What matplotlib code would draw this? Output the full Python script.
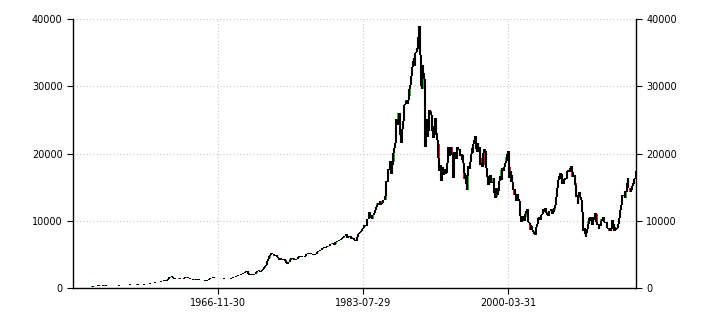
import matplotlib
matplotlib.use("Agg")
import matplotlib.pyplot as plt
import numpy as np

# Monthly closes, 1950-03 .. 2014-11
closes_by_year = {
    1950: [98, 95, 95, 93, 89, 95, 100, 98, 99, 102],
    1951: [112, 120, 128, 130, 128, 125, 127, 140, 155, 160, 158, 166],
    1952: [170, 185, 205, 200, 210, 230, 250, 280, 310, 330, 345, 363],
    1953: [430, 470, 340, 330, 340, 350, 360, 380, 370, 360, 355, 377],
    1954: [370, 360, 345, 340, 330, 325, 320, 330, 340, 335, 320, 356],
    1955: [365, 370, 365, 370, 370, 375, 380, 385, 395, 400, 410, 425],
    1956: [440, 455, 470, 495, 510, 500, 505, 515, 520, 530, 540, 549],
    1957: [570, 575, 560, 560, 590, 560, 530, 515, 500, 480, 470, 474],
    1958: [490, 500, 510, 520, 540, 550, 570, 590, 600, 610, 640, 666],
    1959: [700, 720, 740, 760, 780, 790, 800, 820, 830, 840, 850, 874],
    1960: [900, 920, 960, 970, 990, 1000, 1050, 1150, 1200, 1180, 1100, 1117],
    1961: [1250, 1400, 1500, 1600, 1650, 1700, 1800, 1650, 1500, 1400, 1420, 1432],
    1962: [1450, 1500, 1550, 1480, 1430, 1380, 1320, 1300, 1350, 1370, 1400, 1420],
    1963: [1500, 1600, 1620, 1580, 1560, 1510, 1450, 1390, 1340, 1300, 1280, 1226],
    1964: [1250, 1230, 1260, 1300, 1280, 1260, 1340, 1280, 1250, 1230, 1210, 1216],
    1965: [1230, 1250, 1200, 1150, 1100, 1080, 1050, 1150, 1200, 1250, 1330, 1417],
    1966: [1500, 1550, 1560, 1580, 1520, 1480, 1440, 1470, 1490, 1470, 1450, 1430],
    1967: [1450, 1480, 1470, 1460, 1440, 1420, 1400, 1390, 1360, 1320, 1280, 1283],
    1968: [1300, 1320, 1350, 1400, 1450, 1500, 1540, 1580, 1620, 1650, 1680, 1714],
    1969: [1800, 1830, 1860, 1900, 1950, 1980, 2050, 2100, 2150, 2200, 2280, 2359],
    1970: [2400, 2500, 2520, 2300, 2100, 2000, 2050, 2000, 2050, 2000, 1950, 1987],
    1971: [2050, 2150, 2300, 2450, 2550, 2600, 2700, 2500, 2400, 2500, 2550, 2714],
    1972: [2800, 3000, 3100, 3250, 3400, 3650, 4000, 4300, 4450, 4700, 4950, 5208],
    1973: [5250, 5050, 5000, 4900, 4800, 4900, 4850, 4650, 4600, 4500, 4100, 4306],
    1974: [4400, 4200, 4300, 4100, 4200, 4300, 4100, 3950, 3650, 3500, 3800, 3817],
    1975: [3900, 4100, 4300, 4400, 4400, 4450, 4300, 4100, 4100, 4200, 4300, 4359],
    1976: [4500, 4600, 4700, 4600, 4600, 4700, 4650, 4600, 4650, 4600, 4700, 4991],
    1977: [5050, 5100, 5150, 5100, 5150, 5200, 5100, 5050, 5000, 4950, 4900, 4866],
    1978: [5000, 5100, 5300, 5400, 5500, 5550, 5500, 5600, 5700, 5800, 5900, 6002],
    1979: [6100, 6050, 6000, 6100, 6150, 6200, 6250, 6300, 6400, 6500, 6550, 6569],
    1980: [6650, 6600, 6400, 6600, 6800, 6900, 6950, 7000, 7050, 7150, 7100, 7116],
    1981: [7250, 7400, 7500, 7600, 7750, 7800, 7900, 8000, 7500, 7600, 7700, 7682],
    1982: [7700, 7600, 7300, 7450, 7500, 7350, 7200, 7050, 7050, 7000, 7600, 8017],
    1983: [8000, 8150, 8350, 8450, 8550, 8800, 8900, 9100, 9300, 9300, 9200, 9894],
    1984: [10200, 10300, 11300, 10950, 10500, 10400, 10250, 10900, 10900, 11100, 11200, 11543],
    1985: [11990, 12320, 12580, 12430, 12630, 12880, 12300, 12500, 12700, 12850, 13020, 13113],
    1986: [13020, 13640, 15860, 15820, 16710, 17650, 17550, 18820, 17850, 16910, 18330, 18701],
    1987: [20030, 20770, 21570, 23270, 25080, 24180, 24490, 26030, 26010, 22770, 22690, 21564],
    1988: [23620, 24760, 26260, 27260, 27420, 27770, 28000, 27370, 27920, 28510, 29580, 30159],
    1989: [31580, 31990, 32840, 33710, 34270, 32950, 34950, 35060, 35640, 35550, 37270, 38916],
    1990: [37189, 34591, 29980, 29584, 33131, 31940, 31035, 25978, 20984, 25194, 22454, 23849],
    1991: [23293, 26409, 26292, 26111, 25790, 23291, 24120, 22336, 23916, 25222, 22687, 22984],
    1992: [22023, 21339, 19346, 17390, 18348, 15952, 15910, 18061, 17399, 16767, 17684, 16925],
    1993: [17024, 17098, 18591, 20919, 20552, 19590, 20380, 21027, 20106, 19703, 16408, 17417],
    1994: [20229, 19997, 19112, 19725, 20974, 20644, 20449, 20629, 19564, 19990, 19076, 19723],
    1995: [18650, 17054, 16140, 16807, 15437, 14517, 16678, 18117, 17913, 17655, 18744, 19868],
    1996: [20813, 20125, 21407, 22041, 21956, 22531, 20693, 20167, 21556, 20467, 21020, 19361],
    1997: [18330, 18557, 18003, 19151, 20069, 20605, 20331, 18229, 17888, 16459, 16636, 15259],
    1998: [16628, 16832, 16527, 15641, 15671, 15830, 16379, 14108, 13406, 13565, 14883, 13842],
    1999: [14499, 14368, 15837, 16702, 16112, 17530, 17862, 17437, 17605, 17942, 18558, 18934],
    2000: [19540, 19960, 20337, 17974, 16332, 17411, 15728, 16861, 15747, 14540, 14649, 13786],
    2001: [13844, 12884, 12999, 13934, 13262, 12969, 11861, 10714, 9775, 10367, 10697, 10543],
    2002: [9998, 10588, 11025, 11493, 11764, 10622, 9878, 9619, 9383, 8640, 9216, 8579],
    2003: [8340, 8363, 7973, 7831, 8425, 9083, 9563, 10344, 10219, 10560, 10101, 10677],
    2004: [10784, 11042, 11715, 11762, 11236, 11859, 11326, 11082, 10824, 10771, 11033, 11489],
    2005: [11388, 11741, 11669, 11009, 11277, 11584, 11900, 12414, 13574, 13607, 14872, 16111],
    2006: [16650, 16205, 17060, 16907, 15468, 15505, 15457, 16141, 16128, 16399, 16274, 17226],
    2007: [17383, 17604, 17288, 17400, 17876, 18138, 17249, 16569, 16786, 16737, 15681, 15308],
    2008: [13592, 13603, 12526, 13850, 14339, 13481, 13377, 13073, 11260, 8577, 8512, 8860],
    2009: [7994, 7568, 8110, 8828, 9523, 9958, 10357, 10493, 10133, 10035, 9345, 10546],
    2010: [10198, 10126, 11090, 11057, 9768, 9383, 9537, 8824, 9369, 9202, 9937, 10229],
    2011: [10238, 10624, 9755, 9850, 9694, 9816, 9833, 8955, 8700, 8988, 8435, 8455],
    2012: [8803, 9723, 10084, 9521, 8543, 9007, 8695, 8840, 8870, 8928, 9446, 10395],
    2013: [11139, 11559, 12398, 13861, 13775, 13677, 13668, 13389, 14456, 14328, 15662, 16291],
    2014: [14915, 14841, 14828, 14304, 14632, 15162, 15621, 15425, 16174, 16414, 17460],
}
first_open = 100

tick_positions = [200, 400, 600]
tick_labels = ["1966-11-30", "1983-07-29", "2000-03-31"]
y_ticks = [0, 10000, 20000, 30000, 40000]

close = np.array([v for y in sorted(closes_by_year) for v in closes_by_year[y]], dtype=float)
opn = np.concatenate([[first_open], close[:-1]])
n = len(close)
x = np.arange(n)

fig = plt.figure(figsize=(7.10, 3.25), dpi=100)
ax = fig.add_axes([73/710, 1-288/325, (636-73)/710, (288-19)/325])

up = close >= opn
colors = np.where(up, "#2fb82f", "#e02020")
ax.bar(x, close - opn, bottom=opn, width=3.0, color=colors, linewidth=0, zorder=2)
ax.vlines(x, np.minimum(opn, close), np.maximum(opn, close), color="black", lw=1.5, zorder=3)

ax.set_xlim(0, n - 0.5)
ax.set_ylim(0, 40000)
ax.set_yticks(y_ticks)
ax.set_yticklabels([str(v) for v in y_ticks])
ax.set_xticks(tick_positions)
ax.set_xticklabels(tick_labels)
ax.grid(True, color="#c8c8c8", linestyle=(0, (1, 2)), linewidth=0.8)
ax.set_axisbelow(True)
ax.spines["top"].set_visible(False)
for s in ["left", "right", "bottom"]:
    ax.spines[s].set_color("black")
    ax.spines[s].set_linewidth(1.0)
ax.tick_params(axis="y", which="both", left=True, right=True, labelleft=True,
               labelright=True, direction="out", length=4, labelsize=7, colors="black")
ax.tick_params(axis="x", direction="out", length=4, labelsize=7, colors="black")

fig.savefig("out.png", dpi=100)
